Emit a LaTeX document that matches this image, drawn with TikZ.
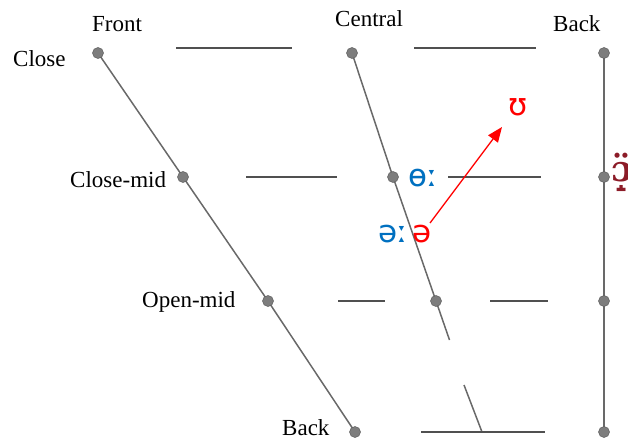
\documentclass[tikz,border=0pt]{standalone}
\usepackage{fontspec}
\setmainfont{Liberation Serif}
\newfontfamily\ipasans{DejaVu Sans}
\newfontfamily\ipaserif{DejaVu Serif}
\usetikzlibrary{arrows.meta,backgrounds}
\definecolor{dotgrey}{RGB}{125,125,125}
\definecolor{linegrey}{RGB}{105,105,105}
\definecolor{barcol}{RGB}{80,80,80}
\definecolor{ipablue}{RGB}{0,112,192}
\definecolor{ipared}{RGB}{255,0,0}
\definecolor{ipadark}{RGB}{140,28,40}
\tikzset{
  vdot/.style={circle,fill=dotgrey,draw=dotgrey!75!black,line width=0.5pt,minimum size=11pt,inner sep=0pt},
  axis/.style={draw=linegrey,line width=1.5pt},
  bar/.style={draw=barcol,line width=2.2pt},
  lbl/.style={anchor=base west,inner sep=0pt,font=\fontsize{23}{26}\selectfont},
  ipa/.style={inner sep=0pt,font=\ipasans\fontsize{31}{34}\selectfont},
}
\begin{document}
\begin{tikzpicture}[x=1pt,y=-1pt]
\useasboundingbox (0,0) rectangle (628,441);

% column and row labels
\node[lbl] (front)   at (92,31.5) {Front};
\node[lbl] (central) at (335,27)  {Central};
\node[lbl] (backtop) at (553,32)  {Back};
\node[lbl] (close)   at (13,67)   {Close};
\node[lbl] (closemid) at (70,187) {Close-mid};
\node[lbl] (openmid) at (142,307) {Open-mid};
\node[lbl] (backbot) at (282,435) {Back};

% horizontal bars of the chart
\coordinate (h1a) at (176,48);  \coordinate (h1b) at (292,48);
\coordinate (h2a) at (414,48);  \coordinate (h2b) at (536,48);
\coordinate (h3a) at (246,177); \coordinate (h3b) at (337,177);
\coordinate (h4a) at (448,177); \coordinate (h4b) at (541,177);
\coordinate (h5a) at (338,301); \coordinate (h5b) at (385,301);
\coordinate (h6a) at (490,301); \coordinate (h6b) at (548,301);
\coordinate (h7a) at (421,432); \coordinate (h7b) at (545,432);
\draw[bar] (h1a) -- (h1b);
\draw[bar] (h2a) -- (h2b);
\draw[bar] (h3a) -- (h3b);
\draw[bar] (h4a) -- (h4b);
\draw[bar] (h5a) -- (h5b);
\draw[bar] (h6a) -- (h6b);
\draw[bar] (h7a) -- (h7b);

% front edge
\node[vdot] (f1) at (98,53) {};
\node[vdot] (f2) at (183,177) {};
\node[vdot] (f3) at (268,301) {};
\node[vdot] (f4) at (355,432) {};
% central line
\node[vdot] (c1) at (352,53) {};
\node[vdot] (c2) at (393,177) {};
\node[vdot] (c3) at (436,301) {};
\coordinate (cend) at (449.5,340);
\coordinate (cb1) at (464,385);
\coordinate (cb2) at (482,432);
% back edge
\node[vdot] (b1) at (604,53) {};
\node[vdot] (b2) at (604,177) {};
\node[vdot] (b3) at (604,301) {};
\node[vdot] (b4) at (604,432) {};

% the edges run behind the dots
\begin{pgfonlayer}{background}
\draw[axis] (f1.center) -- (f2.center) -- (f3.center) -- (f4.center);
\draw[axis] (c1.center) -- (c2.center) -- (c3.center) -- (cend);
\draw[axis] (cb1) -- (cb2);
\draw[axis] (b1.center) -- (b2.center) -- (b3.center) -- (b4.center);
\end{pgfonlayer}

% vowel symbols
\node[ipa,text=ipablue,anchor=west] (oe) at (408,178) {ɵː};
\node[ipa,text=ipablue,anchor=east] (schwalong) at (408,234) {əː};
\node[ipa,text=ipared,anchor=west] (schwa) at (412,234) {ə};
\node[ipa,text=ipared] (upsilon) at (518,107) {ʊ};
\node[inner sep=0pt,anchor=west,text=ipadark,font=\ipaserif\bfseries\fontsize{36}{40}\selectfont] (openo) at (611,172) {ɔ̝̈};

% diphthong glide
\coordinate (gstart) at (430,223);
\coordinate (gend) at (502,127);
\draw[ipared,line width=1.3pt,-{Triangle[length=15pt,width=12pt]}] (gstart) -- (gend);
\end{tikzpicture}
\end{document}
